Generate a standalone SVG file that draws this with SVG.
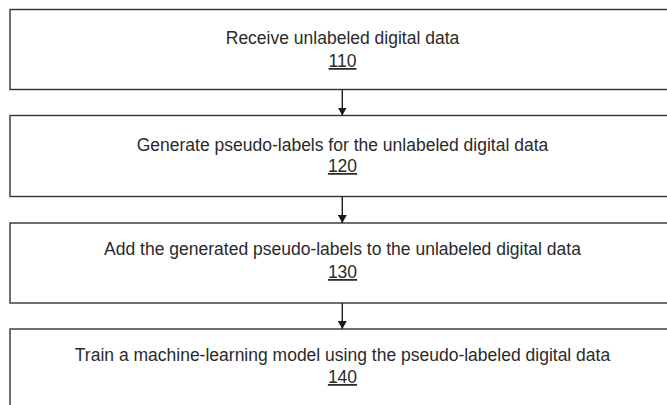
<svg xmlns="http://www.w3.org/2000/svg" width="667" height="405" viewBox="0 0 667 405">
  <style>
    .box { fill: #ffffff; stroke: #333333; stroke-width: 1.4; }
    .lbl { font-family: "Liberation Sans", Arial, sans-serif; font-size: 17.5px; fill: #2a2a2a; text-anchor: middle; }
    .ref { text-decoration: underline; }
    .conn { stroke: #1a1a1a; stroke-width: 1.4; fill: none; }
  </style>
  <defs>
    <marker id="arrow" viewBox="0 0 8 9" refX="8" refY="4.5" markerWidth="8" markerHeight="9" markerUnits="userSpaceOnUse" orient="auto">
      <path d="M0,0 L8,4.5 L0,9 Z" fill="#1a1a1a"/>
    </marker>
  </defs>
  <rect width="667" height="405" fill="#ffffff"/>

  <g id="step-110">
    <rect class="box" x="10" y="9.5" width="680" height="80"/>
    <text class="lbl" x="342.5" y="44">Receive unlabeled digital data</text>
    <text class="lbl ref" x="342.5" y="67">110</text>
  </g>

  <g id="step-120">
    <rect class="box" x="10" y="115.5" width="680" height="81"/>
    <text class="lbl" x="342.5" y="150.5">Generate pseudo-labels for the unlabeled digital data</text>
    <text class="lbl ref" x="342.5" y="172">120</text>
  </g>

  <g id="step-130">
    <rect class="box" x="10" y="223" width="680" height="80"/>
    <text class="lbl" x="342.5" y="255">Add the generated pseudo-labels to the unlabeled digital data</text>
    <text class="lbl ref" x="342.5" y="278">130</text>
  </g>

  <g id="step-140">
    <rect class="box" x="10" y="329" width="680" height="90"/>
    <text class="lbl" x="342.5" y="361">Train a machine-learning model using the pseudo-labeled digital data</text>
    <text class="lbl ref" x="342.5" y="383">140</text>
  </g>

  <g id="connectors">
    <line class="conn" x1="342.3" y1="89.5" x2="342.3" y2="115.5" marker-end="url(#arrow)"/>
    <line class="conn" x1="342.3" y1="196.5" x2="342.3" y2="223" marker-end="url(#arrow)"/>
    <line class="conn" x1="342.3" y1="303" x2="342.3" y2="329" marker-end="url(#arrow)"/>
  </g>
</svg>
